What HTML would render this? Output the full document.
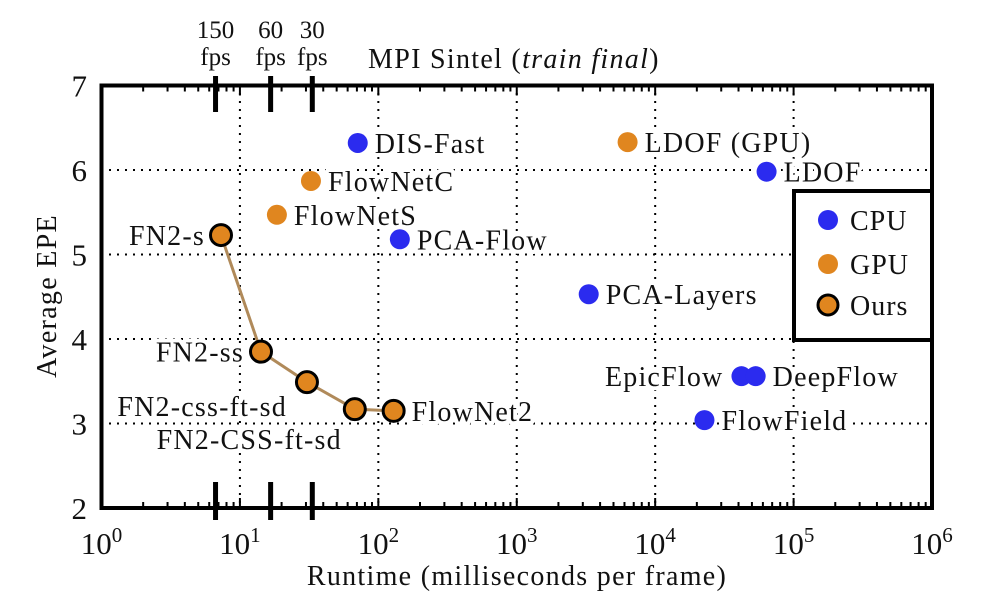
<!DOCTYPE html>
<html><head><meta charset="utf-8"><style>
body{margin:0;background:#fff}
svg text{font-family:"Liberation Serif",serif;fill:#111}
.lab{font-size:28px;letter-spacing:1.2px;stroke:#fff;stroke-width:8px;paint-order:stroke;stroke-linejoin:round}
</style></head><body>
<svg id="chart" width="998" height="600" viewBox="0 0 998 600" xmlns="http://www.w3.org/2000/svg">
<g id="grid"></g>
<g id="ticks"></g>
<g id="series"></g>
<g id="labels"></g>
<rect x="101.5" y="85.5" width="830.5" height="422.5" fill="none" stroke="#000" stroke-width="4"/>
<text x="368" y="68" font-size="28" letter-spacing="1.3">MPI Sintel (<tspan font-style="italic">train final</tspan>)</text>
<text x="517" y="585" font-size="28" letter-spacing="1.3" text-anchor="middle">Runtime (milliseconds per frame)</text>
<text transform="translate(56,296) rotate(-90)" font-size="28" letter-spacing="1.3" text-anchor="middle">Average EPE</text>
<g>
<rect x="794" y="191" width="138" height="149" fill="#fff" stroke="#000" stroke-width="4"/>
<circle cx="828" cy="220" r="10" fill="#2b2bef"/>
<text x="850" y="230" font-size="28" letter-spacing="1">CPU</text>
<circle cx="828" cy="264" r="10" fill="#e0861f"/>
<text x="850" y="274" font-size="28" letter-spacing="1">GPU</text>
<circle cx="828" cy="305" r="10" fill="#e0861f" stroke="#000" stroke-width="3"/>
<text x="850" y="315" font-size="28" letter-spacing="1">Ours</text>
</g>
</svg>
<script>
const cpuNames=["DIS-Fast","PCA-Flow","LDOF","PCA-Layers","EpicFlow","DeepFlow","FlowField"];
const cpuRuntime=[71,143,63800,3310,42000,53200,22700];
const cpuEPE=[6.32,5.18,5.98,4.53,3.56,3.56,3.04];
const gpuNames=["FlowNetC","FlowNetS","LDOF (GPU)"];
const gpuRuntime=[32.6,18.5,6320];
const gpuEPE=[5.87,5.47,6.33];
const oursNames=["FN2-s","FN2-ss","FN2-css-ft-sd","FN2-CSS-ft-sd","FlowNet2"];
const oursRuntime=[7.3,14.2,30.5,67.6,129];
const oursEPE=[5.23,3.85,3.49,3.17,3.15];
const fpsLabels=["150","60","30"];
const fpsValues=[150,60,30];
const xTickExps=[0,1,2,3,4,5,6];
const yTicks=[2,3,4,5,6,7];

const NS="http://www.w3.org/2000/svg";
const X0=101.5,DEC=138.42,Y0=508,UNIT=84.5;
const xs=v=>X0+DEC*Math.log10(v);
const ys=v=>Y0-UNIT*(v-2);
function mk(parent,tag,attrs,text){const e=document.createElementNS(NS,tag);for(const k in attrs)e.setAttribute(k,attrs[k]);if(text!==undefined)e.textContent=text;document.getElementById(parent).appendChild(e);return e;}

for(const e of xTickExps){if(e===0||e===6)continue;
 const g=mk("grid","line",{x1:xs(10**e),x2:xs(10**e),y1:85,y2:508,stroke:"#000","stroke-width":2,"stroke-dasharray":"2,6"});
 
 }
for(const v of yTicks){if(v===2||v===7)continue;
 const g=mk("grid","line",{x1:101,x2:932,y1:ys(v),y2:ys(v),stroke:"#000","stroke-width":2,"stroke-dasharray":"2,6"});
 
 }
for(const e of xTickExps){
 const t=mk("ticks","text",{x:xs(10**e),y:554,"font-size":31,"text-anchor":"middle"});
 t.innerHTML='10<tspan dy="-12" font-size="21">'+e+'</tspan>';
 
 
 if(e<6)for(let m=2;m<=10;m++){const x=xs(m*10**e);const L=m===10?10:6;
  for(const [a,b] of [[Y0,Y0-L],[85.5,85.5+L]]){const l=mk("ticks","line",{x1:x,x2:x,y1:a,y2:b,stroke:"#000","stroke-width":2});
  
  }}}
for(const v of yTicks){
 const t=mk("ticks","text",{x:87,y:ys(v)+11,"font-size":31,"text-anchor":"end"},v);
 
 }
fpsValues.forEach((f,i)=>{const x=xs(1000/f);
 for(const [a,b] of [[76,112],[482,520]]){const l=mk("ticks","line",{x1:x,x2:x,y1:a,y2:b,stroke:"#000","stroke-width":5});
 
 }
 const t1=mk("ticks","text",{x:x,y:38,"font-size":25,"text-anchor":"middle"},fpsLabels[i]);
 
 
 const t2=mk("ticks","text",{x:x,y:65,"font-size":25,"text-anchor":"middle"},"fps");
 
 });
const cpuLab={"EpicFlow":"left"};
cpuNames.forEach((n,i)=>{const c=mk("series","circle",{cx:xs(cpuRuntime[i]),cy:ys(cpuEPE[i]),r:10,fill:"#2b2bef"});
 
 
 const left=cpuLab[n]==="left";
 const t=mk("labels","text",{class:"lab",x:xs(cpuRuntime[i])+(left?-18:17),y:ys(cpuEPE[i])+10,"text-anchor":left?"end":"start"},n);
 
 });
gpuNames.forEach((n,i)=>{const c=mk("series","circle",{cx:xs(gpuRuntime[i]),cy:ys(gpuEPE[i]),r:10,fill:"#e0861f"});
 
 
 const t=mk("labels","text",{class:"lab",x:xs(gpuRuntime[i])+17,y:ys(gpuEPE[i])+10},n);
 
 });
const pl=mk("series","polyline",{points:oursRuntime.map((r,i)=>xs(r)+","+ys(oursEPE[i])).join(" "),fill:"none",stroke:"#b08a5a","stroke-width":3});


const oursOff=[[-16,10,"end"],[-17,10,"end"],[-20,34,"end"],[-13,40,"end"],[18,10,"start"]];
oursNames.forEach((n,i)=>{const c=mk("series","circle",{cx:xs(oursRuntime[i]),cy:ys(oursEPE[i]),r:10.5,fill:"#e0861f",stroke:"#000","stroke-width":3});
 
 
 const o=oursOff[i];
 const t=mk("labels","text",{class:"lab",x:xs(oursRuntime[i])+o[0],y:ys(oursEPE[i])+o[1],"text-anchor":o[2]},n);
 
 });
</script>
</body></html>
